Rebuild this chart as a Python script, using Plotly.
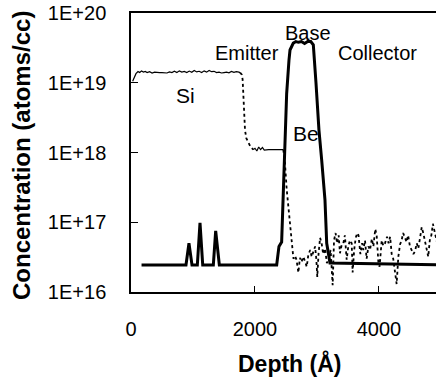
import math
import plotly.graph_objects as go

# ---------------- data ----------------
be_depth = [170, 850, 887, 935, 984, 1040, 1070, 1113, 1157, 1290, 1328, 1366, 1425,
            2350, 2387, 2430, 2457, 2484, 2511, 2548, 2565, 2618, 2660, 2700, 2750,
            2800, 2850, 2900, 2941, 2984, 3032, 3076, 3129, 3157, 3210, 5050]
be_conc = [2.44e16, 2.44e16, 2.44e16, 5.0e16, 2.44e16, 2.44e16, 2.44e16, 9.8e16, 2.44e16,
           2.44e16, 2.44e16, 7.5e16, 2.44e16,
           2.44e16, 4.5e16, 5.2e16, 2.6e17, 1.1e18, 7e18, 2.1e19, 2.95e19, 3.7e19, 3.9e19,
           3.8e19, 3.9e19, 3.65e19, 3.9e19, 3.9e19, 3.5e19, 1.0e19, 2.1e18, 7.8e17, 2.1e17,
           5e16, 2.6e16, 2.44e16]

si_depth = [27, 50, 80, 113, 140, 170, 200, 230, 260, 300, 340, 380, 420, 460, 500, 540,
            580, 620, 660, 700, 740, 780, 820, 860, 900, 940, 980, 1020, 1060, 1100, 1140,
            1180, 1220, 1260, 1300, 1340, 1380, 1420, 1460, 1500, 1540, 1580, 1620, 1660,
            1700, 1740, 1760,
            1790, 1801, 1815, 1825, 1839, 1860, 1892, 1930, 1973,
            2000, 2030, 2060, 2090, 2120, 2150, 2180, 2220, 2260, 2300, 2350, 2400, 2457,
            2484, 2511, 2540, 2570, 2600,
            2620, 2645, 2670, 2700, 2725, 2750, 2780, 2810, 2835, 2860, 2890, 2915, 2940,
            2970, 2990, 3005, 3025, 3050, 3075, 3100, 3130, 3160, 3190, 3220, 3253, 3275,
            3300, 3325, 3350, 3371, 3400, 3425, 3450, 3479, 3505, 3532, 3560, 3575, 3600,
            3625, 3650, 3670, 3700, 3728, 3747, 3775, 3801, 3830, 3855, 3885, 3910, 3940,
            3963, 3990, 4010, 4044, 4070, 4097, 4130, 4155, 4180, 4205, 4230, 4260, 4285,
            4312, 4340, 4365, 4390, 4420, 4445, 4470, 4500, 4527, 4555, 4580, 4610, 4635,
            4663, 4690, 4715, 4742, 4770, 4795, 4820, 4845, 4870, 4900, 4920, 4950, 4980,
            5020, 5050]
si_conc = [1.05e19, 1.2e19, 1.35e19, 1.45e19, 1.40e19, 1.47e19, 1.42e19, 1.45e19, 1.40e19,
           1.44e19, 1.38e19, 1.42e19, 1.40e19, 1.40e19, 1.40e19, 1.40e19, 1.38e19, 1.43e19,
           1.40e19, 1.46e19, 1.40e19, 1.48e19, 1.42e19, 1.45e19, 1.40e19, 1.47e19, 1.41e19,
           1.50e19, 1.43e19, 1.46e19, 1.40e19, 1.48e19, 1.42e19, 1.50e19, 1.44e19, 1.46e19,
           1.40e19, 1.42e19, 1.38e19, 1.40e19, 1.42e19, 1.39e19, 1.45e19, 1.41e19, 1.44e19,
           1.42e19, 1.40e19,
           1.3e19, 1.1e19, 6e18, 4e18, 2.1e18, 1.6e18, 1.43e18, 1.2e18, 1.1e18,
           1.15e18, 1.05e18, 1.2e18, 1.1e18, 1.18e18, 1.08e18, 1.1e18, 1.1e18, 1.1e18,
           1.1e18, 1.1e18, 1.1e18, 1.1e18,
           7e17, 3e17, 1.6e17, 8e16, 4.5e16,
           3.0e16, 3.3e16, 2.9e16, 1.9e16, 3.1e16, 2.7e16, 3.2e16, 2.7e16, 2.3e16, 3.4e16,
           4.0e16, 3.2e16, 3.7e16, 4.5e16, 2.9e16, 1.65e16, 3.5e16, 6.0e16, 5.0e16, 3.5e16,
           4.2e16, 2.6e16, 3.0e16, 4.0e16, 1.25e16, 5.5e16, 7.0e16, 5.0e16, 6.5e16, 3.6e16,
           4.8e16, 5.0e16, 6.5e16, 2.9e16, 4.5e16, 5.5e16, 5.0e16, 1.9e16, 4.0e16, 6.0e16,
           7.0e16, 6.5e16, 3.5e16, 5.0e16, 4.0e16, 5.5e16, 3.0e16, 4.5e16, 4.0e16, 5.8e16,
           4.5e16, 8.0e16, 6.5e16, 2.7e16, 2.3e16, 5.5e16, 4.6e16, 5.0e16, 6.2e16, 5.0e16,
           6.2e16, 3.5e16, 3.0e16, 1.75e16, 1.3e16, 3.2e16, 4.8e16, 5.5e16, 7.0e16, 6.0e16,
           5.2e16, 6.5e16, 4.5e16, 4.0e16, 3.5e16, 3.8e16, 5.0e16, 4.2e16, 6.0e16, 8.5e16,
           7.0e16, 5.5e16, 4.0e16, 3.2e16, 5.5e16, 6.5e16, 9.5e16, 7.5e16, 6.0e16, 4.5e16,
           7.0e16, 5.0e16, 6.0e16]

y_tickvals = [1e16, 1e17, 1e18, 1e19, 1e20]
y_ticktext = ["1E+16", "1E+17", "1E+18", "1E+19", "1E+20"]
x_tickvals = [0, 2000, 4000]
x_ticktext = ["0", "2000", "4000"]

labels = ["Si", "Emitter", "Base", "Collector", "Be"]
label_depth = [884, 1879, 2855, 3984, 2820]
label_conc = [6.6e18, 2.7e19, 5.1e19, 2.7e19, 1.9e18]

# ---------------- figure ----------------
FONT = "Liberation Sans, Arial, sans-serif"
fig = go.Figure()

# Si: solid thin on plateaus, dotted on transitions / noise
segments = [(0, 1760, "solid", 1.2), (1760, 1973, "dot", 1.8),
            (1973, 2457, "solid", 1.2), (2457, 6000, "dot", 1.8)]
for lo, hi, dash, w in segments:
    xs = [d for d in si_depth if lo <= d <= hi]
    ys = [c for d, c in zip(si_depth, si_conc) if lo <= d <= hi]
    fig.add_trace(go.Scatter(x=xs, y=ys, mode="lines",
                             line=dict(color="black", width=w, dash=dash),
                             showlegend=False, hoverinfo="skip"))

fig.add_trace(go.Scatter(x=be_depth, y=be_conc, mode="lines",
                         line=dict(color="black", width=3),
                         showlegend=False, hoverinfo="skip"))

for t, d, c in zip(labels, label_depth, label_conc):
    fig.add_annotation(x=d, y=math.log10(c), text=t, showarrow=False,
                       font=dict(family=FONT, size=21 if t in ("Si", "Be") else 20,
                                 color="black"),
                       xanchor="center", yanchor="middle")

fig.add_annotation(xref="paper", yref="paper", x=-0.3607, y=0.491,
                   text="<b>Concentration (atoms/cc)</b>", textangle=-90,
                   showarrow=False, font=dict(family=FONT, size=24, color="black"),
                   xanchor="center", yanchor="middle")
fig.add_annotation(xref="paper", yref="paper", x=0.521, y=-0.2545,
                   text="<b>Depth (Å)</b>", showarrow=False,
                   font=dict(family=FONT, size=23, color="black"),
                   xanchor="center", yanchor="middle")

fig.update_layout(
    width=436, height=381,
    margin=dict(l=131, r=0, t=13, b=89, autoexpand=False),
    paper_bgcolor="white", plot_bgcolor="white",
    font=dict(family=FONT, color="black"),
    xaxis=dict(range=[0, 4920], tickvals=x_tickvals, ticktext=x_ticktext,
               ticks="inside", ticklen=6, tickcolor="black", tickwidth=1,
               showline=True, linecolor="black", linewidth=1.5, mirror=True,
               showgrid=False, zeroline=False,
               tickfont=dict(family=FONT, size=20, color="black"),
               ticklabelstandoff=18, ticklabeloverflow="allow"),
    yaxis=dict(type="log", range=[16, 20], tickvals=y_tickvals, ticktext=y_ticktext,
               ticks="inside", ticklen=7, tickcolor="black", tickwidth=1,
               showline=True, linecolor="black", linewidth=1.5,
               showgrid=False, zeroline=False,
               tickfont=dict(family=FONT, size=20, color="black"),
               ticklabelstandoff=19, ticklabeloverflow="allow"),
)

fig.write_html("out.html", config={"displayModeBar": False},
               post_script="document.body.style.margin='0';")
